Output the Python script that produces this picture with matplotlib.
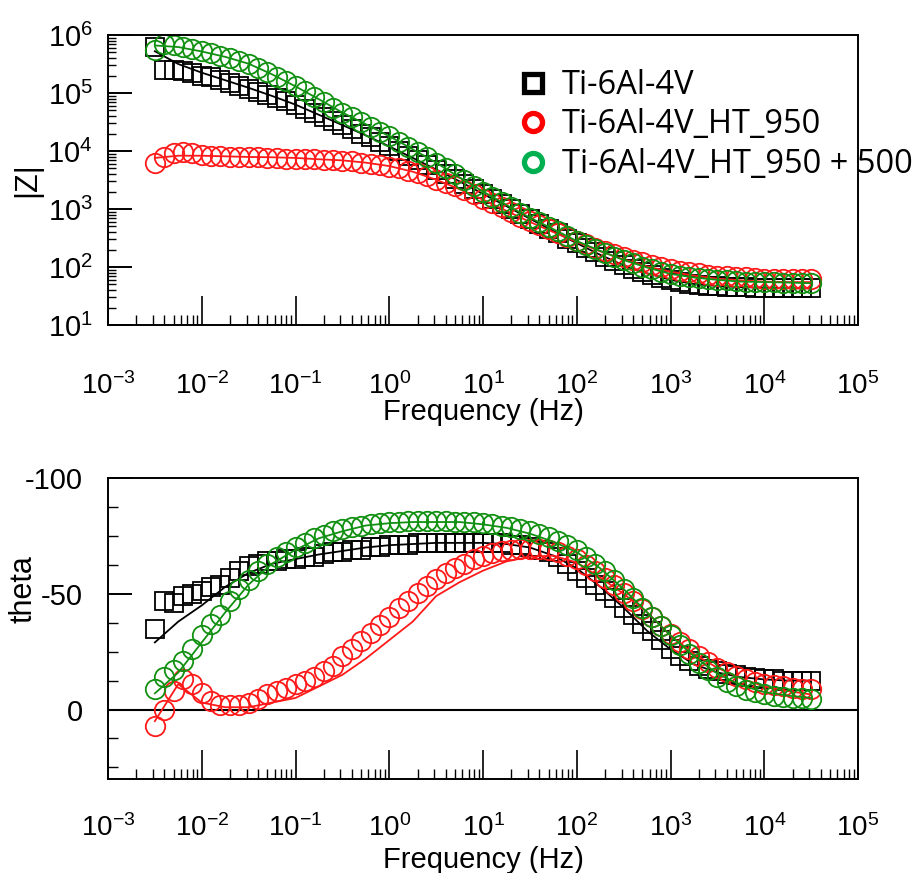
import matplotlib
matplotlib.use("Agg")
import matplotlib.pyplot as plt
from matplotlib.ticker import FixedLocator, LogLocator, MultipleLocator, NullFormatter
from matplotlib.lines import Line2D

plt.rcParams['font.family'] = ['Liberation Sans', 'DejaVu Sans']
plt.rcParams['axes.unicode_minus'] = False

# measured frequencies (Hz), 10 points per decade
freq = [0.00316, 0.00398, 0.00501, 0.00631, 0.00794,
        0.0100, 0.0126, 0.0158, 0.0200, 0.0251, 0.0316, 0.0398, 0.0501, 0.0631, 0.0794,
        0.100, 0.126, 0.158, 0.200, 0.251, 0.316, 0.398, 0.501, 0.631, 0.794,
        1.00, 1.26, 1.58, 2.00, 2.51, 3.16, 3.98, 5.01, 6.31, 7.94,
        10.0, 12.6, 15.8, 20.0, 25.1, 31.6, 39.8, 50.1, 63.1, 79.4,
        100, 126, 158, 200, 251, 316, 398, 501, 631, 794,
        1000, 1260, 1580, 2000, 2510, 3160, 3980, 5010, 6310, 7940,
        10000, 12600, 15800, 20000, 25100, 31600]

# |Z| (ohm)
z_base = [6.3e5, 2.5e5, 2.5e5, 2.4e5, 2.24e5,
          2.0e5, 1.86e5, 1.66e5, 1.48e5, 1.32e5, 1.17e5, 1.05e5, 9.3e4, 8.1e4, 7.2e4,
          6.3e4, 5.4e4, 4.6e4, 3.9e4, 3.3e4, 2.8e4, 2.4e4, 2.0e4, 1.74e4, 1.45e4,
          1.2e4, 1.0e4, 8.3e3, 6.9e3, 5.8e3, 4.8e3, 4.0e3, 3.3e3, 2.75e3, 2.24e3,
          1.82e3, 1.51e3, 1.23e3, 1.0e3, 830, 680, 560, 460, 380, 310,
          257, 214, 178, 148, 126, 107, 93, 81, 72, 65,
          59, 55, 51, 49, 48, 47, 46, 45, 45, 44,
          44, 44, 43, 43, 43, 43]
z_ht950 = [6.2e3, 7.9e3, 9.3e3, 9.8e3, 9.1e3,
           8.5e3, 8.3e3, 8.1e3, 7.9e3, 7.9e3, 7.8e3, 7.8e3, 7.6e3, 7.6e3, 7.4e3,
           7.4e3, 7.2e3, 7.2e3, 7.1e3, 6.9e3, 6.8e3, 6.6e3, 6.3e3, 6.0e3, 5.8e3,
           5.4e3, 5.0e3, 4.6e3, 4.2e3, 3.7e3, 3.2e3, 2.8e3, 2.45e3, 2.1e3, 1.78e3,
           1.51e3, 1.26e3, 1.07e3, 890, 740, 630, 525, 450, 380, 325,
           280, 245, 214, 186, 166, 148, 132, 120, 110, 100,
           93, 87, 81, 78, 74, 71, 69, 68, 66, 65,
           63, 63, 62, 62, 62, 62]
z_ht950_500 = [5.5e5, 6.9e5, 6.8e5, 6.3e5, 5.8e5,
               5.2e5, 4.8e5, 4.4e5, 4.0e5, 3.5e5, 3.2e5, 2.7e5, 2.3e5, 1.9e5, 1.6e5,
               1.3e5, 1.07e5, 8.7e4, 6.9e4, 5.6e4, 4.6e4, 3.8e4, 3.2e4, 2.6e4, 2.1e4,
               1.8e4, 1.45e4, 1.17e4, 9.5e3, 7.8e3, 6.3e3, 5.0e3, 4.0e3, 3.2e3, 2.5e3,
               2.0e3, 1.6e3, 1.32e3, 1.07e3, 870, 710, 590, 490, 410, 340,
               280, 240, 204, 174, 151, 132, 115, 102, 91, 83,
               76, 71, 68, 65, 62, 60, 59, 58, 56, 56,
               55, 55, 54, 54, 52.5, 52.5]

# phase angle (deg)
th_base = [-35, -47, -46, -49, -50,
           -51, -53, -54, -57, -60, -62, -63, -64, -64, -65,
           -65, -66, -66, -67, -68, -68, -69, -69, -70, -70,
           -71, -71, -71, -72, -72, -72, -72, -72, -72, -72,
           -72, -72, -72, -71, -71, -70, -69, -68, -66, -63,
           -60, -57, -54, -51, -48, -44, -41, -37, -34, -30,
           -26, -23, -21, -19, -17.5, -16.5, -15.5, -15, -14, -13.5,
           -13, -13, -12.5, -12.5, -12.5, -12.5]
th_ht950 = [7, 0, -8, -13, -11,
            -7, -3.5, -2, -2, -2, -3, -4.5, -6.5, -8, -9.5,
            -11, -12.5, -14, -16.5, -19, -23, -26, -29.5, -33, -36.5,
            -40, -44, -47, -50.5, -53.5, -56.5, -59, -61, -63, -65,
            -66.5, -67.5, -68.5, -69, -69.5, -69.5, -69.5, -69, -68, -66.5,
            -65, -62.5, -60, -57, -54, -50.5, -47, -43.5, -40, -36,
            -32.5, -29, -26, -23, -20.5, -18, -16, -14.5, -13, -12,
            -11, -10.5, -10, -9.5, -9, -9]
th_ht950_500 = [-9, -14, -17, -21, -26,
                -32, -37, -41, -47, -52, -56, -60, -63, -66, -68,
                -70, -72, -74, -75.5, -77, -78, -79, -79.5, -80, -80.5,
                -81, -81, -81.5, -81.5, -81.5, -81.5, -81.5, -81, -81, -81,
                -80.5, -80, -79.5, -79, -78, -77, -76, -74.5, -73, -71,
                -69, -66, -63, -60, -56, -52, -48, -44, -40, -36,
                -32, -28, -24, -20, -17, -14, -12, -10, -8.5, -7.5,
                -6.5, -6, -5.5, -5, -5, -4.5]

# fitted curves, 4 points per decade
fit_freq = [0.00316, 0.00562, 0.0100, 0.0178, 0.0316, 0.0562, 0.100, 0.178, 0.316, 0.562,
            1.00, 1.78, 3.16, 5.62, 10.0, 17.8, 31.6, 56.2, 100, 178, 316, 562,
            1000, 1780, 3160, 5620, 10000, 17800, 31600]
zfit_base = [5.25e5, 3.16e5, 2.24e5, 1.66e5, 1.23e5, 8.9e4, 6.3e4, 4.2e4, 2.8e4, 1.86e4,
             1.2e4, 7.6e3, 4.8e3, 3.0e3, 1.82e3, 1.12e3, 680, 417, 257, 162, 107, 78,
             60, 51, 47, 45, 44, 43, 43]
zfit_ht950 = [7.6e3, 8.3e3, 8.3e3, 8.1e3, 7.9e3, 7.8e3, 7.6e3, 7.2e3, 6.9e3, 6.3e3,
              5.5e3, 4.4e3, 3.2e3, 2.2e3, 1.45e3, 930, 600, 400, 270, 186, 135, 102,
              83, 71, 63, 59, 56, 55, 55]
zfit_ht950_500 = [6.6e5, 6.2e5, 5.2e5, 4.2e5, 3.2e5, 2.1e5, 1.3e5, 7.8e4, 4.6e4, 2.9e4,
                  1.8e4, 1.07e4, 6.3e3, 3.5e3, 2.0e3, 1.17e3, 710, 450, 280, 190, 132, 98,
                  76, 66, 60, 56, 55, 54, 52.5]
thfit_base = [-29, -38, -45, -53, -59, -63, -65, -67, -68.5, -70,
              -71, -71.5, -72, -72, -72, -71.5, -70, -66.5, -61, -53, -44, -34,
              -26, -19.5, -16, -14, -13, -12.5, -12.5]
thfit_ht950 = [5, -11, -3, -1, -1, -3, -5, -10, -15, -22,
               -30, -38, -49, -55, -60, -64, -66, -66.5, -63.5, -57, -50, -42,
               -32, -24, -18, -13.5, -10, -8, -6.5]
thfit_ht950_500 = [-7, -16, -29, -42, -54, -63, -69, -74, -77, -79.5,
                   -80.5, -81, -81, -81, -80, -78.5, -76, -72.5, -68, -61, -52, -42,
                   -32, -23, -15.5, -10.5, -7.5, -6, -5]

x_ticks = [1e-3, 1e-2, 1e-1, 1e0, 1e1, 1e2, 1e3, 1e4, 1e5]
z_ticks = [1e1, 1e2, 1e3, 1e4, 1e5, 1e6]
labels = ['Ti-6Al-4V', 'Ti-6Al-4V_HT_950', 'Ti-6Al-4V_HT_950 + 500']
col_black = '#000000'
col_red = '#ff1a1a'
col_green = '#119011'

fig = plt.figure(figsize=(9.17, 8.73), dpi=100)
ax1 = fig.add_axes([0.1178, 0.6277, 0.8179, 0.3322])
ax2 = fig.add_axes([0.1178, 0.1077, 0.8179, 0.3447])

mk = dict(ls='none', mfc='none', mew=1.3)

# |Z| panel
ax1.plot(freq, z_base, marker='s', ms=13, mec=col_black, **mk)
ax1.plot(fit_freq, zfit_base, color=col_black, lw=1.3)
ax1.plot(freq, z_ht950, marker='o', ms=14, mec=col_red, **mk)
ax1.plot(fit_freq, zfit_ht950, color=col_red, lw=1.3)
ax1.plot(freq, z_ht950_500, marker='o', ms=14, mec=col_green, **mk)
ax1.plot(fit_freq, zfit_ht950_500, color=col_green, lw=1.3)
ax1.set_xscale('log')
ax1.set_yscale('log')
ax1.set_xlim(1e-3, 1e5)
ax1.set_ylim(1e1, 1e6)
ax1.set_ylabel('|Z|', fontsize=22)
ax1.yaxis.set_label_coords(-0.088, 0.5)
ax1.set_xlabel('Frequency (Hz)', fontsize=21)
ax1.xaxis.set_label_coords(0.5, -0.25)

# phase panel
ax2.axhline(0, color='black', lw=1.5, zorder=1)
ax2.plot(freq, th_base, marker='s', ms=13, mec=col_black, **mk)
ax2.plot(fit_freq, thfit_base, color=col_black, lw=1.3)
ax2.plot(freq, th_ht950, marker='o', ms=14, mec=col_red, **mk)
ax2.plot(fit_freq, thfit_ht950, color=col_red, lw=1.3)
ax2.plot(freq, th_ht950_500, marker='o', ms=14, mec=col_green, **mk)
ax2.plot(fit_freq, thfit_ht950_500, color=col_green, lw=1.3)
ax2.set_xscale('log')
ax2.set_xlim(1e-3, 1e5)
ax2.set_ylim(30, -100)
ax2.yaxis.set_major_locator(MultipleLocator(50))
ax2.yaxis.set_minor_locator(MultipleLocator(12.5))
ax2.set_ylabel('theta', fontsize=22)
ax2.yaxis.set_label_coords(-0.093, 0.63)
ax2.set_xlabel('Frequency (Hz)', fontsize=21)
ax2.xaxis.set_label_coords(0.5, -0.222)

for ax, pad in ((ax1, 34), (ax2, 25)):
    ax.xaxis.set_major_locator(FixedLocator(x_ticks))
    ax.xaxis.set_minor_locator(LogLocator(base=10, subs=range(2, 10), numticks=20))
    ax.xaxis.set_minor_formatter(NullFormatter())
    ax.tick_params(axis='x', which='major', direction='in', length=21, width=1.2,
                   pad=pad, labelsize=20, top=False)
    ax.tick_params(axis='x', which='minor', direction='in', length=7, width=1.0, top=False)
    for s in ax.spines.values():
        s.set_linewidth(1.4)

ax1.yaxis.set_major_locator(FixedLocator(z_ticks))
ax1.yaxis.set_minor_locator(LogLocator(base=10, subs=range(2, 10), numticks=10))
ax1.yaxis.set_minor_formatter(NullFormatter())
ax1.tick_params(axis='y', which='major', direction='in', length=17, width=1.4,
                pad=11, labelsize=21, right=False)
ax1.tick_params(axis='y', which='minor', direction='in', length=6, width=1.0, right=False)
ax2.tick_params(axis='y', which='major', direction='in', length=17, width=1.4,
                pad=18, labelsize=21, right=False)
ax2.tick_params(axis='y', which='minor', direction='in', length=7, width=1.0, right=False)

handles = [
    Line2D([], [], ls='none', marker='s', ms=13, mfc='none', mec='black', mew=3.8),
    Line2D([], [], ls='none', marker='o', ms=13, mfc='none', mec='#ff0000', mew=3.8),
    Line2D([], [], ls='none', marker='o', ms=13, mfc='none', mec='#00b050', mew=3.8),
]
fig.legend(handles, labels, loc='upper left', bbox_to_anchor=(0.565, 0.921),
           frameon=False, handlelength=0.9, handletextpad=0.45,
           labelspacing=0.2, borderpad=0, borderaxespad=0,
           prop={'family': ['Open Sans', 'DejaVu Sans'], 'size': 23.5})

fig.savefig('out.png', dpi=100)
